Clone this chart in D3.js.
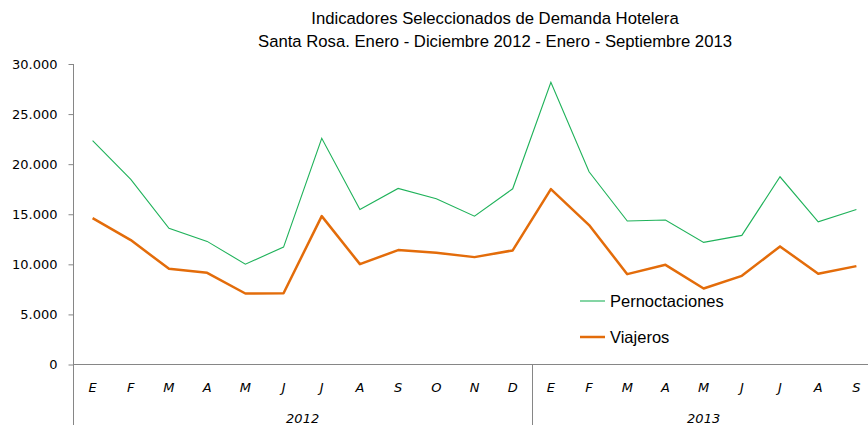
<!DOCTYPE html>
<meta charset="utf-8">
<style>

body {
	margin: 0;
	background: #fff;
}

.title {
	font: 16.7px "Liberation Sans", Arial, sans-serif;
	fill: #000;
}

.axis text {
	font: 13px "DejaVu Sans", sans-serif;
	fill: #000;
}

.axis path, .axis line {
	stroke: #868686;
}

.month, .year {
	font: italic 13px "DejaVu Sans", sans-serif;
	fill: #000;
}

.legend text {
	font: 16.5px "Liberation Sans", Arial, sans-serif;
	fill: #000;
}

</style>
<svg width="868" height="425"></svg>
<script src="https://d3js.org/d3.v7.min.js"></script>
<script>

	var months = ["E", "F", "M", "A", "M", "J", "J", "A", "S", "O", "N", "D",
		"E", "F", "M", "A", "M", "J", "J", "A", "S"];

	var years = [
		{ label: "2012", count: 12 },
		{ label: "2013", count: 9 }
	];

	var pernoctaciones = [22340, 18480, 13590, 12290, 10020, 11720, 22580, 15480, 17580, 16540, 14810, 17540,
		28170, 19240, 14320, 14420, 12190, 12890, 18740, 14250, 15480];

	var viajeros = [14620, 12420, 9550, 9150, 7090, 7120, 14810, 10020, 11420, 11150, 10720, 11390,
		17510, 13920, 9020, 9950, 7590, 8850, 11790, 9050, 9820];

	var yTicks = [0, 5000, 10000, 15000, 20000, 25000, 30000];

	var svg = d3.select("svg"),
		plotLeft = 73.5,
		plotRight = 875.5,
		plotTop = 64,
		plotBottom = 364.5;

	var x = d3.scaleBand()
		.domain(d3.range(months.length))
		.range([plotLeft, plotRight]);

	var y = d3.scaleLinear()
		.domain([0, 30000])
		.range([plotBottom, plotTop]);

	var fmt = function(v) { return d3.format(",")(v).replace(/,/g, "."); };

	// title
	svg.append("text").attr("class", "title")
		.attr("x", 495).attr("y", 24).attr("text-anchor", "middle")
		.text("Indicadores Seleccionados de Demanda Hotelera");
	svg.append("text").attr("class", "title")
		.attr("x", 495).attr("y", 47).attr("text-anchor", "middle")
		.text("Santa Rosa. Enero - Diciembre 2012 - Enero - Septiembre 2013");

	// y axis
	var yAxis = svg.append("g")
		.attr("class", "axis")
		.attr("transform", "translate(" + plotLeft + ",0)")
		.call(d3.axisLeft(y).tickValues(yTicks).tickFormat(fmt).tickSize(5).tickPadding(11).tickSizeOuter(0));
	yAxis.select(".domain").remove();
	yAxis.append("line")
		.attr("x1", 0).attr("x2", 0)
		.attr("y1", plotTop).attr("y2", 425);

	// x axis line
	svg.append("line")
		.attr("x1", plotLeft).attr("x2", plotRight)
		.attr("y1", plotBottom).attr("y2", plotBottom)
		.style("stroke", "#868686");

	// month labels
	svg.selectAll(".month")
		.data(months)
		.enter().append("text")
		.attr("class", "month")
		.attr("x", function(d, i) { return x(i) + x.bandwidth() / 2; })
		.attr("y", 392)
		.attr("text-anchor", "middle")
		.text(function(d) { return d; });

	// year groups
	var start = 0;
	years.forEach(function(yr) {
		var x0 = x(start), x1 = x(start + yr.count - 1) + x.bandwidth();
		svg.append("text").attr("class", "year")
			.attr("x", (x0 + x1) / 2).attr("y", 423)
			.attr("text-anchor", "middle")
			.text(yr.label);
		if (start > 0) {
			svg.append("line")
				.attr("x1", Math.round(x0) + 0.5).attr("x2", Math.round(x0) + 0.5)
				.attr("y1", plotBottom).attr("y2", 425)
				.style("stroke", "#868686");
		}
		start += yr.count;
	});

	var line = d3.line()
		.x(function(d, i) { return x(i) + x.bandwidth() / 2; })
		.y(function(d) { return y(d); });

	svg.append("path")
		.datum(pernoctaciones)
		.attr("d", line)
		.style("fill", "none")
		.style("stroke", "#1fb25a")
		.style("stroke-width", 1.1);

	svg.append("path")
		.datum(viajeros)
		.attr("d", line)
		.style("fill", "none")
		.style("stroke", "#e36c0a")
		.style("stroke-width", 2.5)
		.style("stroke-linejoin", "round");

	// legend
	var legend = svg.append("g").attr("class", "legend");
	var items = [
		{ name: "Pernoctaciones", color: "#1fb25a", width: 1.1, y: 301 },
		{ name: "Viajeros", color: "#e36c0a", width: 2.5, y: 337 }
	];
	items.forEach(function(it) {
		legend.append("line")
			.attr("x1", 580).attr("x2", 605)
			.attr("y1", it.y).attr("y2", it.y)
			.style("stroke", it.color)
			.style("stroke-width", it.width);
		legend.append("text")
			.attr("x", 610).attr("y", it.y + 6)
			.text(it.name);
	});

</script>
